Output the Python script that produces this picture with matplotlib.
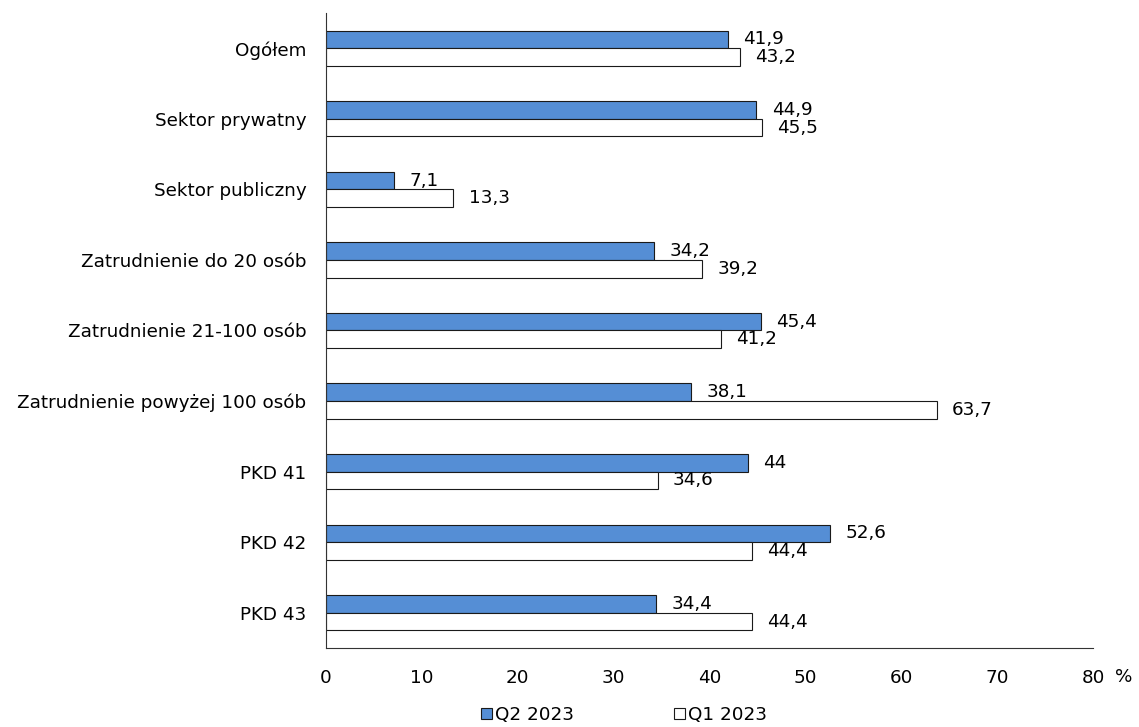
import matplotlib
matplotlib.use("Agg")
import matplotlib.pyplot as plt
import numpy as np

categories = [
    "Ogółem",
    "Sektor prywatny",
    "Sektor publiczny",
    "Zatrudnienie do 20 osób",
    "Zatrudnienie 21-100 osób",
    "Zatrudnienie powyżej 100 osób",
    "PKD 41",
    "PKD 42",
    "PKD 43",
]
q2_2023 = [41.9, 44.9, 7.1, 34.2, 45.4, 38.1, 44.0, 52.6, 34.4]
q1_2023 = [43.2, 45.5, 13.3, 39.2, 41.2, 63.7, 34.6, 44.4, 44.4]
q2_labels = ["41,9", "44,9", "7,1", "34,2", "45,4", "38,1", "44", "52,6", "34,4"]
q1_labels = ["43,2", "45,5", "13,3", "39,2", "41,2", "63,7", "34,6", "44,4", "44,4"]
series_names = ["Q2 2023", "Q1 2023"]
x_ticks = [0, 10, 20, 30, 40, 50, 60, 70, 80]

plt.rcParams["font.family"] = ["DejaVu Sans"]
FS = 13.2

fig = plt.figure(figsize=(11.39, 7.27), dpi=100)
ax = fig.add_axes([0.2862, 0.1087, 0.6734, 0.8734])

y = np.arange(len(categories))
h = 0.25
blue = "#558ED5"

b2 = ax.barh(y - h / 2, q2_2023, height=h, color=blue, edgecolor="#1a1a1a", linewidth=0.8,
             label=series_names[0])
b1 = ax.barh(y + h / 2, q1_2023, height=h, color="white", edgecolor="#1a1a1a", linewidth=0.8,
             label=series_names[1])

for yy, v, lab in zip(y - h / 2, q2_2023, q2_labels):
    ax.annotate(lab, (v, yy), xytext=(11, 0), textcoords="offset points",
                va="center", ha="left", fontsize=FS)
for yy, v, lab in zip(y + h / 2, q1_2023, q1_labels):
    ax.annotate(lab, (v, yy), xytext=(11, 0), textcoords="offset points",
                va="center", ha="left", fontsize=FS)

ax.set_ylim(len(categories) - 0.5, -0.5)
ax.set_xlim(0, 80)
ax.set_yticks(y)
ax.set_yticklabels(categories, fontsize=FS)
ax.set_xticks(x_ticks)
ax.set_xticklabels([str(t) for t in x_ticks], fontsize=FS)
ax.tick_params(axis="x", length=0, pad=15)
ax.tick_params(axis="y", length=0, pad=14)

for s in ["top", "right"]:
    ax.spines[s].set_visible(False)
ax.spines["left"].set_color("#333333")
ax.spines["bottom"].set_color("#333333")
ax.spines["left"].set_linewidth(0.8)
ax.spines["bottom"].set_linewidth(0.8)

fig.text(1124 / 1139, 1 - 677 / 727, "%", fontsize=FS, ha="center", va="center")

fig.legend(handles=[b2, b1], loc="center", bbox_to_anchor=(624 / 1139, 1 - 715 / 727), ncol=2,
           frameon=False, fontsize=FS, handlelength=0.6, handleheight=0.6,
           handletextpad=0.15, columnspacing=5.5, borderpad=0.1)

fig.savefig("out.png", dpi=100)
